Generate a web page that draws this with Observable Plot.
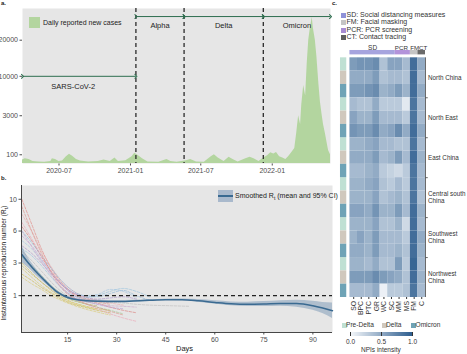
<!DOCTYPE html>
<html><head><meta charset="utf-8">
<script src="https://cdn.jsdelivr.net/npm/d3@7"></script>
<script src="https://cdn.jsdelivr.net/npm/@observablehq/plot@0.6"></script>
<style>
html,body{margin:0;padding:0;background:#fff;}
#root{position:relative;width:467px;height:354px;overflow:hidden;font-family:'Liberation Sans',Arial,sans-serif;color:#222;}
.abs{position:absolute;white-space:nowrap;}
.sq{position:absolute;width:5px;height:5px;}
</style></head>
<body><div id="root"></div>
<script>
// ---------- Panel a data ----------
const caseDates = ["2020-03-29","2020-04-05","2020-04-15","2020-04-25","2020-05-10","2020-05-25","2020-06-10","2020-06-14","2020-06-22","2020-07-01","2020-07-10","2020-07-20","2020-07-28","2020-08-05","2020-08-15","2020-08-25","2020-09-15","2020-10-10","2020-10-25","2020-11-10","2020-11-22","2020-12-01","2020-12-20","2021-01-05","2021-01-12","2021-01-20","2021-02-01","2021-02-15","2021-03-15","2021-04-05","2021-04-15","2021-05-01","2021-05-25","2021-06-05","2021-06-20","2021-07-10","2021-07-28","2021-08-05","2021-08-15","2021-08-30","2021-09-12","2021-09-22","2021-10-05","2021-10-25","2021-11-05","2021-11-15","2021-11-28","2021-12-10","2021-12-20","2021-12-28","2022-01-05","2022-01-12","2022-01-20","2022-01-28","2022-02-05","2022-02-12","2022-02-20","2022-02-28","2022-03-05","2022-03-10","2022-03-15","2022-03-18","2022-03-23","2022-03-28","2022-04-01","2022-04-05","2022-04-09","2022-04-14","2022-04-17","2022-04-22","2022-04-26","2022-05-01","2022-05-05","2022-05-09","2022-05-13","2022-05-18","2022-05-22","2022-05-26","2022-05-31"];
const caseValues = [15,30,20,5,3,2,5,30,20,5,8,60,110,70,20,8,3,5,15,5,40,5,10,60,140,90,30,3,2,20,5,2,10,20,3,2,60,100,40,5,50,20,3,30,50,30,5,40,80,150,120,160,60,40,20,60,150,300,1200,3000,2000,4500,8000,6000,13000,20000,24000,28000,24000,20000,15000,8400,5000,3250,2000,1160,600,220,100];
const caseTicks = [100, 3000, 10000, 20000];
const dateTicks = ["2020-07-01","2021-01-01","2021-07-01","2022-01-01"];
const periodNames = ["SARS-CoV-2","Alpha","Delta","Omicron"];
const periodStart = ["2020-03-29","2021-01-15","2021-05-19","2021-12-09"];
const periodEnd   = ["2021-01-15","2021-05-19","2021-12-09","2022-05-31"];
const variantBoundaries = ["2021-01-15","2021-05-19","2021-12-09"];

// ---------- Panel b data ----------
const rtDays = [1,4,7,10,13,16,20,24,28,32,36,40,46,52];
const rtSeriesNames = ["s1","s2","s3","s4","s5","s6","s7","s8","s9","s10","s11","s12","s13","s14","s15","s16","s17","s18"];
const rtSeriesValues = [
  [10.0,6.8,4.2,2.6,1.7,1.2,0.9,0.75,0.65,null,null,null,null,null],
  [8.0,6.0,4.0,2.7,1.8,1.3,0.95,0.8,0.7,0.62,null,null,null,null],
  [6.5,5.0,3.5,2.4,1.6,1.15,0.85,0.7,0.55,0.45,0.38,null,null,null],
  [6.0,4.8,3.6,2.6,1.8,1.3,1.0,0.95,1.1,1.25,1.0,0.8,null,null],
  [5.0,4.2,3.2,2.3,1.6,1.2,1.0,1.05,1.3,1.2,0.9,null,null,null],
  [5.5,4.5,3.3,2.3,1.6,1.1,0.8,0.65,0.55,0.5,null,null,null,null],
  [4.5,3.8,3.0,2.2,1.6,1.2,0.95,0.85,0.9,0.95,0.85,null,null,null],
  [3.0,2.3,1.7,1.25,0.95,0.75,0.6,0.5,0.45,null,null,null,null,null],
  [2.6,2.0,1.5,1.15,0.9,0.72,0.58,0.48,null,null,null,null,null,null],
  [2.2,1.8,1.4,1.1,0.85,0.68,0.55,0.45,0.38,null,null,null,null,null],
  [2.8,2.2,1.7,1.3,1.0,0.82,0.68,0.6,null,null,null,null,null,null],
  [3.5,2.8,2.1,1.5,1.1,0.85,0.68,0.55,0.45,0.35,null,null,null,null],
  [4.0,3.2,2.4,1.7,1.2,0.9,0.75,0.7,0.72,0.7,0.65,0.62,0.6,0.58],
  [7.0,5.2,3.6,2.4,1.5,1.0,0.7,0.5,0.35,0.25,0.18,null,null,null],
  [4.2,3.6,2.8,2.0,1.4,1.05,0.9,1.0,1.2,1.35,1.2,0.95,null,null],
  [9.0,6.0,3.8,2.3,1.4,0.95,0.7,0.55,0.42,0.32,null,null,null,null],
  [2.0,1.6,1.3,1.0,0.8,0.65,0.5,0.4,0.32,null,null,null,null,null],
  [6.0,4.4,3.1,2.1,1.4,1.0,0.78,0.66,0.6,0.58,0.55,null,null,null]
];
const rtSeriesColors = ["#e07d78","#eaa3a6","#d9736f","#86b3d9","#9ec3e0","#b79ad3","#a58cc7","#cfbd48","#d6c55a","#c7b23c","#b8b060","#9cc48a","#b8b8b8","#eb9fb0","#8fbfdd","#d98a80","#d9c86a","#c9a0c8"];
const smoothDays = [1,3,6,9,12,15,18,21,25,30,35,40,45,50,55,60,65,70,75,80,85,90,93,96];
const smoothMean = [3.7,3.0,2.2,1.6,1.15,0.92,0.82,0.78,0.76,0.75,0.77,0.8,0.82,0.82,0.78,0.72,0.67,0.65,0.66,0.68,0.68,0.6,0.52,0.44];
const smoothLo   = [3.05,2.65,2.0,1.5,1.08,0.87,0.78,0.74,0.72,0.72,0.74,0.77,0.79,0.78,0.73,0.66,0.6,0.57,0.57,0.58,0.55,0.45,0.36,0.24];
const smoothHi   = [4.5,3.4,2.4,1.7,1.22,0.97,0.86,0.82,0.8,0.79,0.8,0.83,0.85,0.86,0.83,0.78,0.74,0.73,0.75,0.78,0.8,0.76,0.72,0.7];
const rtTicksX = [15,30,45,60,75,90];
const rtTicksY = [1,3,6,10];

// ---------- Panel c data ----------
const regions = ["North China","North East","East China","Central south China","Southwest China","Northwest China"];
const regionLabels = ["North China","North East","East China","Central south\nChina","Southwest\nChina","Northwest\nChina"];
const variants = ["Pre-Delta","Delta","Omicron"];
const npiColumns = ["SO","BPC","PTC","GR","WC","SC","MM","MS","FM","C"];
const npiColumnGroup = ["SD","SD","SD","SD","SD","SD","PCR","PCR","FM","CT"];
const npiGroups = ["SD","PCR","FM","CT"];
const npiValues = [
  [0.6,0.65,0.65,0.7,0.35,0.55,0.55,0.4,0.9,0.5],
  [0.5,0.5,0.5,0.6,0.35,0.4,0.4,0.35,0.9,0.4],
  [0.6,0.6,0.65,0.7,0.45,0.5,0.6,0.45,0.9,0.5],
  [0.4,0.35,0.35,0.5,0.3,0.3,0.3,0.1,0.85,0.4],
  [0.55,0.45,0.45,0.6,0.4,0.4,0.4,0.3,0.85,0.4],
  [0.65,0.6,0.6,0.7,0.5,0.55,0.7,0.5,0.9,0.5],
  [0.45,0.45,0.5,0.55,0.4,0.4,0.35,0.35,0.85,0.4],
  [0.5,0.5,0.5,0.6,0.4,0.45,0.6,0.4,0.9,0.45],
  [0.4,0.4,0.45,0.5,0.3,0.25,0.2,0.3,0.85,0.4],
  [0.45,0.45,0.5,0.55,0.35,0.3,0.4,0.3,0.85,0.4],
  [0.45,0.45,0.45,0.55,0.35,0.4,0.45,0.35,0.85,0.35],
  [0.55,0.55,0.5,0.65,0.45,0.45,0.6,0.4,0.9,0.45],
  [0.45,0.45,0.45,0.55,0.35,0.35,0.45,0.2,0.9,0.4],
  [0.45,0.55,0.45,0.6,0.4,0.4,0.4,0.3,0.9,0.5],
  [0.5,0.5,0.45,0.6,0.4,0.4,0.45,0.35,0.9,0.45],
  [0.45,0.45,0.4,0.5,0.35,0.35,0.6,0.3,0.95,0.4],
  [0.6,0.6,0.6,0.7,0.6,0.55,0.5,0.35,0.9,0.45],
  [0.4,0.4,0.4,0.5,0.05,0.3,0.3,0.35,0.85,0.4]
];
const npiLegend = ["SD: Social distancing measures","FM: Facial masking","PCR: PCR screening","CT: Contact tracing"];
const npiLegendKey = ["SD","FM","PCR","CT"];
const intensityTicks = [0, 0.5, 1];

// ---------- styles ----------
const FONT = "'Liberation Sans',Arial,sans-serif";
const groupColor = {SD:"#a6a4de", PCR:"#b393da", FM:"#c4c4c4", CT:"#6a6a6a"};
const groupLegendColor = {SD:"#8f92d8", PCR:"#a78bd2", FM:"#c4c4c4", CT:"#5e5e5e"};
const variantColor = {"Pre-Delta":"#bfe0d3","Delta":"#d0c8bd","Omicron":"#6fa3b6"};
const heatRange = ["#f6f8fb","#2e5e8f"];

const root = document.getElementById("root");
function place(el, left, top){ el.style.position="absolute"; el.style.left=left+"px"; el.style.top=top+"px"; root.appendChild(el); return el; }
function html(s, left, top, css){ const d=document.createElement("div"); d.className="abs"; d.innerHTML=s; d.style.cssText += css||""; return place(d,left,top); }

// ---------- Panel a ----------
const parse = d3.utcParse("%Y-%m-%d");
const cases = caseDates.map((d,i)=>({date:parse(d), value:caseValues[i]}));
const periods = periodNames.map((n,i)=>({name:n, start:parse(periodStart[i]), end:parse(periodEnd[i])}));
periods.forEach(p=>{ p.mid = new Date((+p.start + +p.end)/2); });
const topPeriods = periods.slice(1);
const plotA = Plot.plot({
  width:335, height:180, marginLeft:22, marginRight:5, marginTop:8, marginBottom:17,
  style:{fontFamily:FONT, fontSize:"7px", color:"#4d4d4d", background:"transparent", overflow:"visible"},
  x:{type:"utc", domain:[parse("2020-03-29"), parse("2022-05-31")], ticks:dateTicks.map(parse), tickFormat:d3.utcFormat("%Y-%m"), tickSize:2.5, tickPadding:2, label:null},
  y:{type:"sqrt", domain:[0,31600], ticks:caseTicks, tickFormat:d=>String(d), tickSize:2.5, tickPadding:2, label:null},
  marks:[
    Plot.frame({fill:"#e6e6e6", stroke:"none"}),
    Plot.areaY(cases, {x:"date", y:"value", fill:"#b3d59f", curve:"linear"}),
    Plot.ruleX(variantBoundaries.map(parse), {stroke:"#2b2b2b", strokeWidth:1.3, strokeDasharray:"4,3"}),
    Plot.link([periods[0]], {x1:"start", x2:"end", y1:()=>10000, y2:()=>10000, stroke:"#2e6e4f", strokeWidth:1, markerStart:"arrow", markerEnd:"arrow"}),
    Plot.link(topPeriods, {x1:"start", x2:"end", y1:()=>28400, y2:()=>28400, stroke:"#2e6e4f", strokeWidth:1, markerStart:"arrow", markerEnd:"arrow"}),
    Plot.text([periods[0]], {x:"mid", y:()=>7800, text:"name", fill:"#222", fontSize:7.5, dx:-6}),
    Plot.text(topPeriods, {x:"mid", y:()=>25000, text:"name", fill:"#222", fontSize:7.5})
  ]
});
place(plotA, 0, 0);
const lgA = document.createElement("div"); lgA.className="sq"; lgA.style.cssText+="width:11px;height:11px;background:#b3d59f;"; place(lgA, 29, 17);
html("Daily reported new cases", 43, 18.5, "font-size:7px;color:#222;");
html("<b>a.</b>", 1, 0, "font-size:6px;color:#222;");

// ---------- Panel b ----------
const rtRows = [];
rtSeriesNames.forEach((s,si)=>rtDays.forEach((d,i)=>{ const v=rtSeriesValues[si][i]; if(v!=null) rtRows.push({series:s, day:d, r:v}); }));
const smooth = smoothDays.map((d,i)=>({day:d, mean:smoothMean[i], lo:smoothLo[i], hi:smoothHi[i]}));
const xMinB = 0.9, yMinB = 0.03;
const plotB = Plot.plot({
  width:336, height:182, marginLeft:21, marginRight:4, marginTop:13, marginBottom:22,
  style:{fontFamily:FONT, fontSize:"7px", color:"#4d4d4d", background:"transparent", overflow:"visible"},
  x:{domain:[xMinB,96], ticks:rtTicksX, tickSize:2.5, tickPadding:2, label:null},
  y:{type:"sqrt", domain:[yMinB,12.05], ticks:rtTicksY, tickSize:2.5, tickPadding:2, label:null},
  color:{domain:rtSeriesNames, range:rtSeriesColors},
  marks:[
    Plot.frame({fill:"#e6e6e6", stroke:"none"}),
    Plot.line(rtRows, {x:"day", y:"r", z:"series", stroke:"series", strokeWidth:0.7, strokeDasharray:"2.5,1.5", strokeOpacity:0.85, curve:"monotone-x"}),
    Plot.ruleY([1], {stroke:"#222", strokeWidth:1.1, strokeDasharray:"4,3"}),
    Plot.areaY(smooth, {x:"day", y1:"lo", y2:"hi", fill:"#6d8db0", fillOpacity:0.45, curve:"monotone-x"}),
    Plot.line(smooth, {x:"day", y:"mean", stroke:"#3a6a91", strokeWidth:1.5, curve:"monotone-x"}),
    Plot.ruleX([xMinB], {stroke:"#333", strokeWidth:0.9}),
    Plot.ruleY([yMinB], {stroke:"#333", strokeWidth:0.9})
  ]
});
place(plotB, 0, 172);
html("<b>b.</b>", 1, 175, "font-size:6px;color:#222;");
html("Days", 176, 344, "font-size:7.5px;color:#222;");
html("Instantaneous reproduction number (R<sub style='font-size:5px'>t</sub>)", -58, 258, "font-size:6.5px;color:#222;transform:rotate(-90deg);transform-origin:center;width:126px;text-align:center;line-height:8px;");
const lgB = document.createElement("div"); lgB.style.cssText="width:15px;height:12px;background:#a9b9cc;"; place(lgB, 218, 190);
const lgBl = document.createElement("div"); lgBl.style.cssText="width:15px;height:1.6px;background:#3a6a91;"; place(lgBl, 218, 195.3);
html("Smoothed R<sub style='font-size:5px'>t</sub> (mean and 95% CI)", 235, 191, "font-size:7px;color:#222;line-height:9px;");

// ---------- Panel c ----------
const cells = [];
npiValues.forEach((row,ri)=>row.forEach((v,ci)=>cells.push({row:ri, col:ci, v, region:regions[Math.floor(ri/3)], variant:variants[ri%3]})));
const annot = npiValues.map((_,ri)=>({row:ri, variant:variants[ri%3]}));
const groups = npiGroups.map(g=>{ const idx = npiColumnGroup.map((x,i)=>x===g?i:-1).filter(i=>i>=0); return {name:g, start:d3.min(idx), end:d3.max(idx)+1}; });
groups.forEach(g=>g.mid=(g.start+g.end)/2);
const regionRows = regions.map((r,i)=>({name:regionLabels[i], start:i*3, mid:i*3+1.5}));
const boundaries = regions.slice(1).map((_,i)=>(i+1)*3);
const nCol = npiColumns.length, nRow = npiValues.length;
const plotC = Plot.plot({
  width:137, height:290, marginLeft:9.6, marginRight:42, marginTop:4, marginBottom:33,
  style:{fontFamily:FONT, fontSize:"6.8px", color:"#333", background:"transparent", overflow:"visible"},
  x:{domain:[-1.3, nCol], ticks:npiColumns.map((_,i)=>i+0.5), tickFormat:d=>npiColumns[Math.floor(d)], tickRotate:-90, tickSize:2, tickPadding:1.5, label:null},
  y:{domain:[-1, nRow], reverse:true, axis:null},
  color:{type:"linear", domain:[0,1], range:heatRange},
  marks:[
    ...variants.map(v=>Plot.rect(annot, {filter:d=>d.variant===v, x1:()=>-1.25, x2:()=>-0.42, y1:"row", y2:d=>d.row+1, fill:variantColor[v]})),
    Plot.rect(cells, {x1:"col", x2:d=>d.col+1, y1:"row", y2:d=>d.row+1, fill:"v"}),
    ...npiGroups.map(g=>Plot.rect(groups, {filter:d=>d.name===g, x1:"start", x2:"end", y1:()=>-0.55, y2:()=>-0.22, fill:groupColor[g]})),
    Plot.text(groups, {filter:d=>d.name==="SD", x:"mid", y:()=>-0.62, text:"name", lineAnchor:"bottom", fill:"#333", fontSize:6.5}),
    Plot.text(groups, {filter:d=>d.name==="PCR", x:"mid", y:()=>-0.62, text:"name", lineAnchor:"bottom", fill:"#333", fontSize:6.2, dx:-1.5}),
    Plot.text(groups, {filter:d=>d.name==="FM", x:"mid", y:()=>-0.62, text:"name", lineAnchor:"bottom", fill:"#333", fontSize:6.2, dx:0.5}),
    Plot.text(groups, {filter:d=>d.name==="CT", x:"mid", y:()=>-0.62, text:"name", lineAnchor:"bottom", fill:"#333", fontSize:6.2, dx:1.5}),
    Plot.ruleX([nCol], {y1:0, y2:nRow, stroke:"#444", strokeWidth:0.8}),
    Plot.link(boundaries, {x1:()=>nCol, x2:()=>nCol+0.3, y1:d=>d, y2:d=>d, stroke:"#444", strokeWidth:0.8}),
    Plot.text(regionRows, {x:()=>nCol, y:"mid", text:"name", textAnchor:"start", dx:2.5, fill:"#333", fontSize:6.3, lineHeight:1.1})
  ]
});
place(plotC, 330, 40);
html("<b>c.</b>", 332, 0, "font-size:6px;color:#222;");
npiLegend.forEach((t,i)=>{
  const s=document.createElement("div"); s.className="sq"; s.style.background=groupLegendColor[npiLegendKey[i]]; place(s, 341, 12.5+i*7.5);
  html(t, 346.5, 10.5+i*7.5, "font-size:7px;color:#333;line-height:8px;");
});
const vPos = [341.5, 381.5, 411];
variants.forEach((v,i)=>{
  const s=document.createElement("div"); s.className="sq"; s.style.background=variantColor[v]; place(s, vPos[i], 322.5);
  html(v, vPos[i]+4.5, 320.5, "font-size:6.6px;color:#333;line-height:8px;");
});
const ramp = Plot.legend({color:{type:"linear", domain:[0,1], range:heatRange}, ticks:intensityTicks, tickFormat:".1f", width:82, height:22, marginTop:3, marginBottom:15, marginLeft:10, marginRight:10, tickSize:0, label:null, style:{fontFamily:FONT, fontSize:"6.5px", color:"#333", background:"transparent"}});
place(ramp, 340, 329);
html("NPIs intensity", 361, 346, "font-size:6.5px;color:#333;");
</script></body></html>
